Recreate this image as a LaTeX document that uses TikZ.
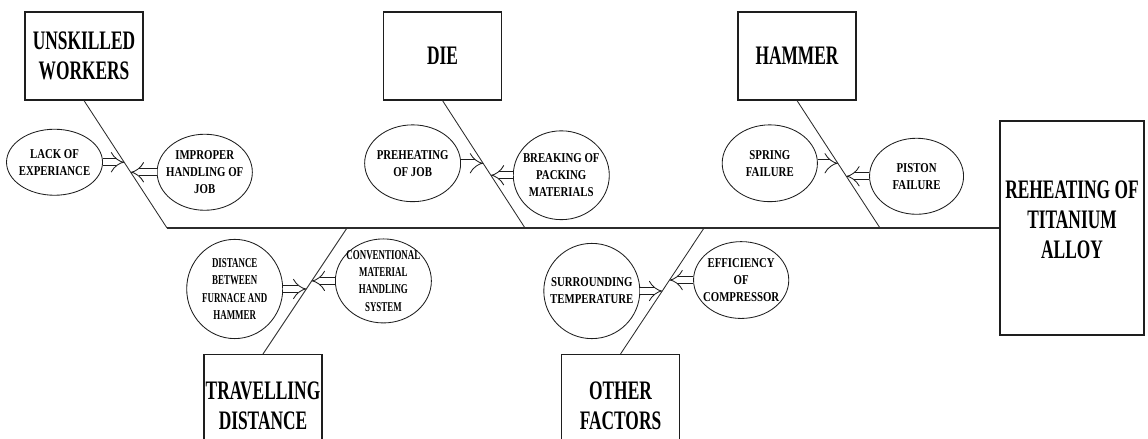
\documentclass[tikz,border=0pt]{standalone}
\usepackage{fontspec}
\setmainfont{Liberation Serif}
\newfontfamily\headfont[FakeStretch=0.65]{Liberation Serif}
\newfontfamily\causefont[FakeStretch=0.8]{Liberation Serif}
\newfontfamily\causenarrow[FakeStretch=0.66]{Liberation Serif}
\usepackage{tikz}
\usetikzlibrary{shapes.geometric,arrows.meta,positioning,calc}
\definecolor{fishInk}{HTML}{1E1E1E}
\definecolor{fishLine}{HTML}{2B2B2B}
\tikzset{
  fishhead/.style={rectangle, draw=fishInk, line width=0.8pt, fill=white,
    minimum width=2.95cm, minimum height=2.2cm, align=center, inner sep=0pt,
    font=\headfont\bfseries\fontsize{19}{21.5}\selectfont},
  fishcause/.style={ellipse, draw=fishInk, line width=0.6pt, fill=white,
    minimum width=2.4cm, minimum height=1.92cm, align=center, inner sep=-12pt,
    font=\causefont\bfseries\fontsize{9.6}{12.2}\selectfont},
  narrowcause/.style={fishcause, font=\causenarrow\bfseries\fontsize{9.6}{12.2}\selectfont},
  fishbone/.style={draw=fishLine, line width=0.6pt},
  fishspine/.style={draw=fishLine, line width=1.2pt},
  fishpush/.style={draw=fishInk, line width=0.6pt, double=white, double distance=4.6pt,
    -{Implies[length=5pt, width=12pt]}}
}

\begin{document}
\begin{tikzpicture}[x=0.025cm, y=-0.025cm]
\clip (0,0) rectangle (1148,439);
% main categories
\node[fishhead] (uw) at (84,56) {UNSKILLED\\WORKERS};
\node[fishhead] (die) at (442.5,56) {DIE};
\node[fishhead] (ham) at (797,56) {HAMMER};
\node[fishhead, minimum height=2.55cm, anchor=north] (trv) at (263,354) {TRAVELLING\\DISTANCE};
\node[fishhead, minimum height=2.55cm, anchor=north] (oth) at (620.5,354) {OTHER\\FACTORS};
\node[fishhead, minimum width=3.6cm, minimum height=5.35cm] (ti) at (1072,228) {REHEATING OF\\TITANIUM\\ALLOY\\[-10pt]};

% spine and bones
\coordinate (s0) at (167,228);
\coordinate (s1) at (525,228);
\coordinate (s2) at (880,228);
\coordinate (s3) at (347,228);
\coordinate (s4) at (704,228);
\draw[fishspine] (s0) -- (ti.west);
\draw[fishbone] (uw.south) -- (s0);
\draw[fishbone] (die.south) -- (s1);
\draw[fishbone] (ham.south) -- (s2);
\draw[fishbone] (s3) -- (trv.north);
\draw[fishbone] (s4) -- (oth.north);

% where the causes meet the bones
\coordinate (t1) at ($(uw.south)!0.484!(s0)$);
\coordinate (t2) at ($(uw.south)!0.5625!(s0)$);
\coordinate (t3) at ($(die.south)!0.492!(s1)$);
\coordinate (t4) at ($(die.south)!0.586!(s1)$);
\coordinate (t5) at ($(ham.south)!0.492!(s2)$);
\coordinate (t6) at ($(ham.south)!0.594!(s2)$);
\coordinate (t7) at ($(s3)!0.484!(trv.north)$);
\coordinate (t8) at ($(s3)!0.42!(trv.north)$);
\coordinate (t9) at ($(s4)!0.5!(oth.north)$);
\coordinate (t10) at ($(s4)!0.413!(oth.north)$);

% causes
\node[fishcause, minimum height=1.65cm, left=0.53cm of t1] (lack) {LACK OF\\EXPERIANCE};
\node[fishcause, minimum width=2.38cm, minimum height=1.9cm, right=0.65cm of t2] (improp) {IMPROPER\\HANDLING OF\\JOB};
\node[fishcause, left=0.55cm of t3] (preheat) {PREHEATING\\OF JOB};
\node[fishcause, minimum height=2.22cm, right=0.55cm of t4] (packing) {BREAKING OF\\PACKING\\MATERIALS};
\node[fishcause, minimum width=2.38cm, left=0.5cm of t5] (spring) {SPRING\\FAILURE};
\node[fishcause, minimum width=2.35cm, minimum height=1.9cm, right=0.57cm of t6] (piston) {PISTON\\FAILURE};
\node[narrowcause, minimum height=2.48cm, left=0.58cm of t7] (furnace) {DISTANCE\\BETWEEN\\FURNACE AND\\HAMMER};
\node[narrowcause, minimum height=2.1cm, right=0.58cm of t8] (mhs) {CONVENTIONAL\\MATERIAL\\HANDLING\\SYSTEM};
\node[fishcause, minimum height=2.38cm, left=0.55cm of t9] (temp) {SURROUNDING\\TEMPERATURE};
\node[fishcause, minimum width=2.38cm, right=0.59cm of t10] (comp) {EFFICIENCY\\OF\\COMPRESSOR};

\draw[fishpush] (lack) -- (t1);
\draw[fishpush] (improp) -- (t2);
\draw[fishpush] (preheat) -- (t3);
\draw[fishpush] (packing) -- (t4);
\draw[fishpush] (spring) -- (t5);
\draw[fishpush] (piston) -- (t6);
\draw[fishpush] (furnace) -- (t7);
\draw[fishpush] (mhs) -- (t8);
\draw[fishpush] (temp) -- (t9);
\draw[fishpush] (comp) -- (t10);
\end{tikzpicture}
\end{document}
